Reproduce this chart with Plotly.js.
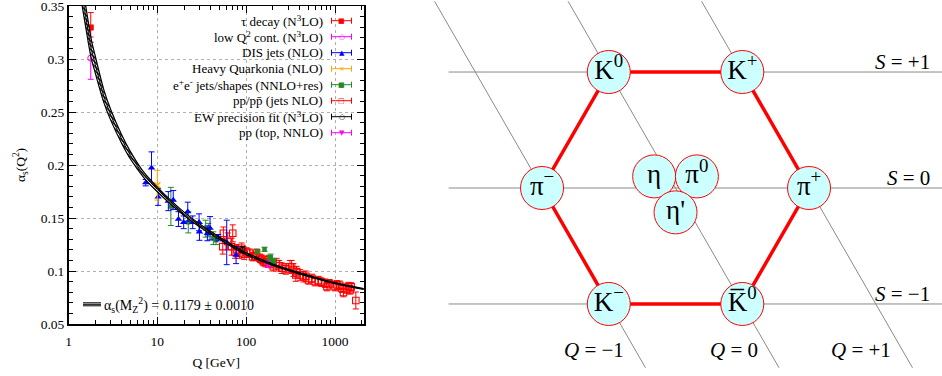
<!DOCTYPE html>
<html><head><meta charset="utf-8">
<script src="https://cdn.plot.ly/plotly-3.0.1.min.js"></script>
<style>html,body{margin:0;padding:0;background:#fff}#plot{width:942px;height:376px}</style>
</head><body><div id="plot"></div>
<script>
// ---------- running coupling band ----------
const CURVE_Q  = [1.4,1.6,1.8,2,2.5,3,4,5,7,10,15,20,30,50,91.2,150,200,300,500,1000,2100];
const CURVE_A  = [0.365,0.335,0.31,0.295,0.265,0.247,0.224,0.209,0.191,0.177,0.163,0.154,0.143,0.131,0.118,0.110,0.106,0.101,0.0955,0.0885,0.083];
const CURVE_UP = [0.376,0.345,0.319,0.303,0.271,0.252,0.228,0.2125,0.1935,0.1792,0.1648,0.1556,0.1444,0.1321,0.1189,0.1108,0.1067,0.1016,0.0961,0.089,0.0834];
const CURVE_LO = [0.354,0.325,0.301,0.287,0.259,0.242,0.220,0.2055,0.1885,0.1748,0.1612,0.1524,0.1416,0.1299,0.1171,0.1092,0.1053,0.1004,0.0949,0.088,0.0826];

// ---------- measurements ----------
const TAU_Q = [1.78], TAU_A = [0.330], TAU_E = [0.014];
const LOWQ_Q = [1.78], LOWQ_A = [0.301], LOWQ_E = [0.020];
const DIS_Q = [7.4, 8.6, 10.2, 13.3, 15.1, 17.3, 19.8, 22, 25, 29.5, 29.8, 36.6, 39.2, 48.6, 60.4, 77];
const DIS_A = [0.1834,0.1975,0.170,0.166,0.167,0.149,0.146,0.156,0.146,0.146,0.137,0.1356,0.1404,0.1315,0.127,0.115];
const DIS_E = [0.003,0.015,0.008,0.009,0.009,0.007,0.006,0.009,0.006,0.008,0.008,0.007,0.011,0.003,0.021,0.008];
const HQ_Q = [10.0], HQ_A = [0.181], HQ_E = [0.014];
const EE_Q = [14.2, 22.3, 35, 37.5, 42.7, 45.8, 133, 161, 183, 189, 200, 206];
const EE_A = [0.161, 0.146, 0.140, 0.139, 0.131, 0.129, 0.1183, 0.1205, 0.112, 0.113, 0.109, 0.108];
const EE_E = [0.018, 0.010, 0.008, 0.006, 0.006, 0.004, 0.002, 0.002, 0.003, 0.003, 0.003, 0.003];
const PP_Q = [54.5,55.4,62,68.6,70.6,75,78,84,89,95,101,110,118,125,131,143,150,156,165,178,190,202,220,235,252,280,311,325,340,362,370,405,441,470,502,550,597,650,700,773,812,870,1000,1050,1130,1194,1245,1350,1420,1480,1520,1715];
const PP_A = [0.123,0.1356,0.128,0.123,0.1356,0.118,0.120,0.117,0.1215,0.116,0.118,0.1168,0.1136,0.114,0.1168,0.112,0.111,0.109,0.108,0.1105,0.107,0.104,0.107,0.105,0.1027,0.102,0.104,0.104,0.101,0.0963,0.0994,0.0963,0.0947,0.095,0.0916,0.093,0.090,0.091,0.0895,0.0885,0.0853,0.088,0.0853,0.087,0.0866,0.0838,0.0797,0.083,0.0853,0.0822,0.085,0.0722];
const PP_E = [0.007,0.006,0.008,0.008,0.008,0.006,0.005,0.005,0.005,0.005,0.004,0.004,0.004,0.004,0.004,0.004,0.004,0.004,0.004,0.004,0.004,0.004,0.005,0.005,0.005,0.005,0.006,0.006,0.006,0.006,0.005,0.005,0.005,0.005,0.004,0.004,0.004,0.004,0.004,0.004,0.004,0.004,0.004,0.004,0.004,0.004,0.004,0.004,0.004,0.004,0.004,0.008];
const EW_Q = [91.2], EW_A = [0.1203], EW_E = [0.0028];
const TOP_Q = [175], TOP_A = [0.1064], TOP_E = [0.0030];

const X_TICKS = [1, 10, 100, 1000];
const X_TICK_TEXT = ['1', '10', '100', '1000'];

const LEGEND_LABELS = ['τ decay (N<sup>3</sup>LO)', 'low Q<sup>2</sup> cont. (N<sup>3</sup>LO)', 'DIS jets (NLO)', 'Heavy Quarkonia (NLO)',
  'e<sup>+</sup>e<sup>-</sup> jets/shapes (NNLO+res)', 'pp/pp̄ (jets NLO)', 'EW precision fit (N<sup>3</sup>LO)', 'pp (top, NNLO)'];
const LEGEND_COLORS = ['#ff0000', '#ff00ff', '#0000ff', '#ffa500', '#228b22', '#ff0000', '#000000', '#ff00ff'];
const LEGEND_GLYPHS = ['■', '○', '▲', '×', '■', '□', '○', '▼'];
const BAND_LABEL = 'α<sub>s</sub>(M<sub>Z</sub><sup>2</sup>) = 0.1179 ± 0.0010';

// ---------- meson nonet ----------
const MESON_LABELS = ['K<sup>0</sup>', 'K<sup>+</sup>', 'π<sup>−</sup>', 'π<sup>+</sup>', 'K<sup>−</sup>', 'K̅<sup>0</sup>', 'η', 'π<sup>0</sup>', "η'"];
const MESON_I3 = [-0.5, 0.5, -1, 1, -0.5, 0.5, -0.16, 0.16, 0];
const MESON_S  = [1, 1, 0, 0, -1, -1, 0.1, 0.1, -0.21];
const HEX_ORDER = [0, 1, 3, 5, 4, 2, 0];
const S_LEVELS = [1, 0, -1];
const Q_LEVELS = [-1, 0, 1];
const S_LABELS = ['<i>S</i> = +1', '<i>S</i> = 0', '<i>S</i> = −1'];
const Q_LABELS = ['<i>Q</i> = −1', '<i>Q</i> = 0', '<i>Q</i> = +1'];

// ---------- build ----------
const W = 942, H = 376;
const px = x => x / W, py = y => 1 - y / H;
const SERIF = "'Liberation Serif', 'DejaVu Serif', serif";

function meas(x, y, e, color, symbol, size, lw) {
  return {x: x, y: y, type: 'scatter', mode: 'markers', xaxis: 'x', yaxis: 'y', showlegend: false,
    marker: {symbol: symbol, size: size, color: color, line: {color: color, width: lw}},
    error_y: {type: 'data', array: e, visible: true, color: color, thickness: 1, width: 3}};
}

const traces = [];
traces.push(meas(PP_Q, PP_A, PP_E, '#ff0000', 'square-open', 6.5, 1.1));
traces.push(meas(EE_Q, EE_A, EE_E, '#228b22', 'square', 4.5, 0));
traces.push(meas(DIS_Q, DIS_A, DIS_E, '#0000ff', 'triangle-up', 6.5, 0));
traces.push(meas(HQ_Q, HQ_A, HQ_E, '#ffa500', 'x-thin-open', 6, 1.5));
traces.push(meas(TAU_Q, TAU_A, TAU_E, '#ff0000', 'square', 6, 0));
traces.push(meas(LOWQ_Q, LOWQ_A, LOWQ_E, '#ff00ff', 'circle-open', 6, 1));
traces.push(meas(EW_Q, EW_A, EW_E, '#000000', 'circle-open', 5, 1));
traces.push(meas(TOP_Q, TOP_A, TOP_E, '#ff00ff', 'triangle-down', 6, 0));
// band: lower edge, hatched fill up to upper edge, central line
traces.push({x: CURVE_Q, y: CURVE_LO, type: 'scatter', mode: 'lines', xaxis: 'x', yaxis: 'y', showlegend: false,
  line: {color: '#000', width: 1.2, shape: 'spline', smoothing: 0.8}});
traces.push({x: CURVE_Q, y: CURVE_UP, type: 'scatter', mode: 'lines', xaxis: 'x', yaxis: 'y', showlegend: false,
  fill: 'tonexty', fillcolor: 'rgba(0,0,0,0.45)',
  fillpattern: {shape: '\\', fgcolor: '#000', bgcolor: '#fff', size: 3, solidity: 0.45},
  line: {color: '#000', width: 1.2, shape: 'spline', smoothing: 0.8}});
traces.push({x: CURVE_Q, y: CURVE_A, type: 'scatter', mode: 'lines', xaxis: 'x', yaxis: 'y', showlegend: false,
  line: {color: '#000', width: 1, shape: 'spline', smoothing: 0.8}});

// nonet grid lines
S_LEVELS.forEach(s => traces.push({x: [-1.70, 2.05], y: [s, s], type: 'scatter', mode: 'lines', xaxis: 'x2', yaxis: 'y2',
  showlegend: false, line: {color: '#8a8a8a', width: 1}}));
Q_LEVELS.forEach(q => traces.push({x: [q - 1.61 / 2, q + 1.55 / 2], y: [1.61, -1.55], type: 'scatter', mode: 'lines',
  xaxis: 'x2', yaxis: 'y2', showlegend: false, line: {color: '#8a8a8a', width: 1}}));
traces.push({x: HEX_ORDER.map(i => MESON_I3[i]), y: HEX_ORDER.map(i => MESON_S[i]), type: 'scatter', mode: 'lines',
  xaxis: 'x2', yaxis: 'y2', showlegend: false, line: {color: '#ff0000', width: 3.5}});
traces.push({x: MESON_I3, y: MESON_S, text: MESON_LABELS, type: 'scatter', mode: 'markers+text', textposition: 'middle center',
  xaxis: 'x2', yaxis: 'y2', showlegend: false, cliponaxis: false,
  marker: {size: 43, color: '#ccffff', line: {color: '#ff0000', width: 1}},
  textfont: {family: SERIF, size: 27, color: '#000'}});

const shapes = [], annotations = [];
// legend backdrop (hides grid)
shapes.push({type: 'rect', xref: 'paper', yref: 'paper', x0: px(155), x1: px(363), y0: py(142), y1: py(7),
  fillcolor: '#fff', line: {width: 0}, layer: 'between'});
LEGEND_LABELS.forEach((t, i) => {
  const yy = 20.7 + 16 * i;
  annotations.push({xref: 'paper', yref: 'paper', x: px(325), y: py(yy), xanchor: 'right', yanchor: 'middle',
    text: t, showarrow: false, font: {family: SERIF, size: 13, color: '#000'}});
  const c = LEGEND_COLORS[i];
  shapes.push({type: 'line', xref: 'paper', yref: 'paper', x0: px(331.5), x1: px(351.5), y0: py(yy), y1: py(yy), line: {color: c, width: 1}});
  shapes.push({type: 'line', xref: 'paper', yref: 'paper', x0: px(331.5), x1: px(331.5), y0: py(yy - 3), y1: py(yy + 3), line: {color: c, width: 1}});
  shapes.push({type: 'line', xref: 'paper', yref: 'paper', x0: px(351.5), x1: px(351.5), y0: py(yy - 3), y1: py(yy + 3), line: {color: c, width: 1}});
  annotations.push({xref: 'paper', yref: 'paper', x: px(341.5), y: py(yy), xanchor: 'center', yanchor: 'middle',
    text: LEGEND_GLYPHS[i], showarrow: false, font: {family: 'DejaVu Sans', size: 7, color: c}});
});
[302.8, 304.3, 305.8].forEach(yy => shapes.push({type: 'line', xref: 'paper', yref: 'paper', x0: px(83), x1: px(101),
  y0: py(yy), y1: py(yy), line: {color: '#000', width: 1}}));
annotations.push({xref: 'paper', yref: 'paper', x: px(102), y: py(304.5), xanchor: 'left', yanchor: 'middle',
  text: BAND_LABEL, showarrow: false, font: {family: SERIF, size: 14, color: '#000'}});

S_LEVELS.forEach((s, i) => annotations.push({xref: 'x2', yref: 'y2', x: 1.92, y: s + 0.09, xanchor: 'right', yanchor: 'middle',
  text: S_LABELS[i], showarrow: false, font: {family: SERIF, size: 21, color: '#000'}}));
Q_LEVELS.forEach((q, i) => annotations.push({xref: 'x2', yref: 'y2', x: q + 0.63, y: -1.40, xanchor: 'right', yanchor: 'middle',
  text: Q_LABELS[i], showarrow: false, font: {family: SERIF, size: 21, color: '#000'}}));

const tickFont = {family: SERIF, size: 13.5, color: '#000'};
const layout = {
  width: W, height: H, margin: {l: 0, r: 0, t: 0, b: 0}, paper_bgcolor: '#fff', plot_bgcolor: '#fff',
  showlegend: false, hovermode: false, font: {family: SERIF},
  xaxis: {type: 'log', domain: [px(68.5), px(364)], range: [0, Math.log10(2120)], tickmode: 'array',
    tickvals: X_TICKS, ticktext: X_TICK_TEXT, ticks: 'inside', ticklen: 7, tickwidth: 1, tickcolor: '#000',
    showline: true, linecolor: '#000', linewidth: 1.5, mirror: 'allticks', showgrid: true, gridcolor: '#b0b0b0',
    griddash: 'dot', gridwidth: 1, zeroline: false, automargin: false, ticklabelstandoff: 4, ticklabeloverflow: 'allow',
    minor: {ticks: 'inside', ticklen: 4, tickcolor: '#000', dtick: 'D1', showgrid: false},
    tickfont: tickFont, title: {text: 'Q [GeV]', font: tickFont, standoff: 10}},
  yaxis: {domain: [py(324), py(6)], range: [0.05, 0.3502], tick0: 0, dtick: 0.05, ticks: 'inside', ticklen: 7,
    tickwidth: 1, tickcolor: '#000', showline: true, linecolor: '#000', linewidth: 1.5, mirror: 'allticks',
    showgrid: true, gridcolor: '#b0b0b0', griddash: 'dot', gridwidth: 1, zeroline: false, automargin: false,
    ticklabeloverflow: 'allow',
    minor: {ticks: 'inside', ticklen: 4, tickcolor: '#000', dtick: 0.01, showgrid: false},
    tickfont: tickFont, title: {text: 'α<sub>s</sub>(Q<sup>2</sup>)', font: tickFont, standoff: 12}},
  xaxis2: {domain: [0.45, 1], range: [-1.885, 1.996], visible: false, fixedrange: true},
  yaxis2: {domain: [0, 1], range: [-1.621, 1.621], visible: false, fixedrange: true},
  shapes: shapes, annotations: annotations
};
Plotly.newPlot('plot', traces, layout, {staticPlot: true, displayModeBar: false});
</script></body></html>
